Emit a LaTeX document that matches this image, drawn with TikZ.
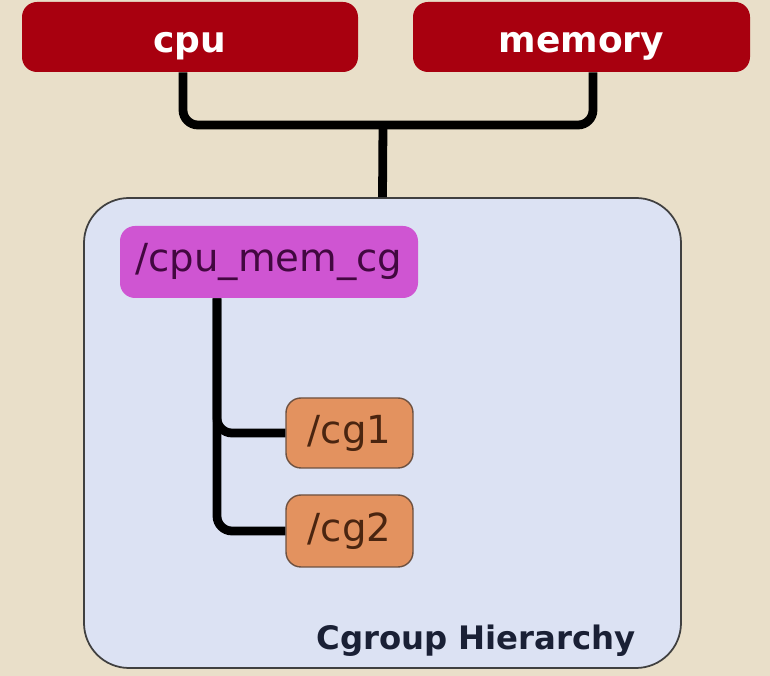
\documentclass[tikz,border=0pt]{standalone}
\usepackage{fontspec}
\setmainfont{DejaVu Sans}
\usepackage{tikz}
\usetikzlibrary{shapes, arrows.meta, positioning}
\definecolor{bgbeige}{HTML}{E9DFC9}
\definecolor{ctrlred}{HTML}{A8000F}
\definecolor{hierfill}{HTML}{DCE2F3}
\definecolor{rootfill}{HTML}{CF55D2}
\definecolor{roottext}{HTML}{420840}
\definecolor{cgfill}{HTML}{E3925F}
\definecolor{cgtext}{HTML}{4A2510}
\definecolor{labeltext}{HTML}{1A2035}
\tikzset{%
  ctrlblock/.style={rectangle, fill=ctrlred, text=white, font=\bfseries\fontsize{20.5}{24}\selectfont, text height=18pt, text depth=0pt, rounded corners=0.3cm, minimum width=6.72cm, minimum height=1.4cm},
  hierbox/.style={rectangle, draw=black!75, line width=1pt, fill=hierfill, rounded corners=0.9cm, minimum width=11.94cm, minimum height=9.4cm},
  rootblock/.style={rectangle, fill=rootfill, text=roottext, font=\fontsize{22}{26}\selectfont, rounded corners=0.3cm, minimum width=5.96cm, minimum height=1.44cm},
  cgblock/.style={rectangle, draw=cgtext!80, line width=0.8pt, fill=cgfill, text=cgtext, font=\fontsize{22}{26}\selectfont, rounded corners=0.3cm, minimum width=2.54cm, minimum height=1.4cm},
  bus/.style={draw, line width=5pt, rounded corners=0.3cm}}
\begin{document}
\begin{tikzpicture}
    \fill[bgbeige] (0,0) rectangle (15.4,-13.52);
    \useasboundingbox (0,0) rectangle (15.4,-13.52);
    % controllers
    \node [ctrlblock] (cpu) at (3.8, -0.74) {cpu};
    \node [ctrlblock, minimum width=6.74cm] (memory) at (11.63, -0.74) {memory};
    % hierarchy
    \node [hierbox] (hier) at (7.65, -8.66) {};
    \node [rootblock] (cgroot) at (5.38, -5.24) {/cpu\_mem\_cg};
    \node [cgblock] (cg1) at (6.99, -8.66) {/cg1};
    \node [cgblock, minimum height=1.44cm] (cg2) at (6.99, -10.62) {/cg2};
    \node [font=\bfseries\fontsize{18.4}{22}\selectfont, text=labeltext, anchor=base east] (hierlabel) at (12.84, -13.0) {Cgroup Hierarchy};
    % attach controllers to the hierarchy
    \coordinate (join) at (7.66, -2.5);
    \draw [bus] ([xshift=-0.14cm]cpu.south) |- (join) -| ([xshift=0.23cm]memory.south);
    \draw [bus] (join) -- (hier.north);
    % children of the root cgroup
    \draw [bus] ([xshift=-1.04cm]cgroot.south) |- (cg1.west);
    \draw [bus] ([xshift=-1.04cm]cgroot.south) |- (cg2.west);
  \end{tikzpicture}
\end{document}
